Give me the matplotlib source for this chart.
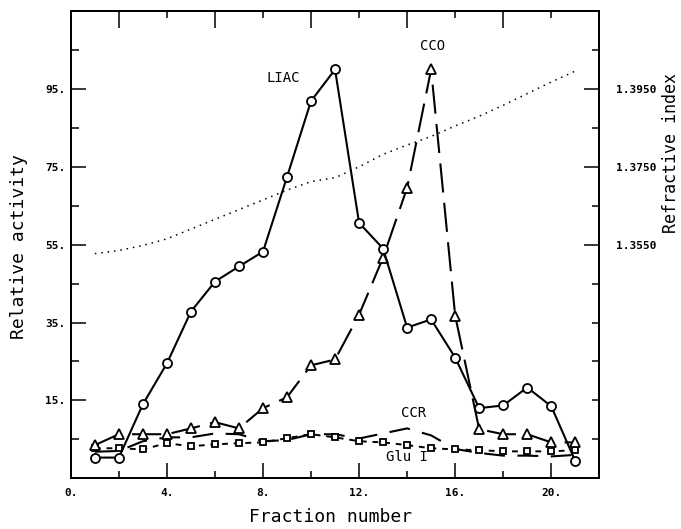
import numpy as np
import matplotlib
matplotlib.use("Agg")
import matplotlib.pyplot as plt
from matplotlib.ticker import MultipleLocator, FixedLocator, NullFormatter

# ---------------- DATA ----------------
fraction = list(range(1, 22))
liac = [0.3, 0.3, 14.0, 24.5, 37.8, 45.5, 49.4, 53.2, 72.4, 91.9, 100.0,
        60.6, 54.0, 33.7, 35.8, 26.0, 13.0, 13.7, 18.3, 13.5, -0.6]
cco = [3.5, 6.3, 6.3, 6.3, 7.8, 9.4, 7.8, 13.0, 15.8, 24.0, 25.5,
       37.0, 51.7, 69.6, 100.0, 36.8, 7.6, 6.3, 6.3, 4.2, 4.2]
ccr = [1.8, 2.0, 4.5, 5.5, 5.5, 6.5, 6.3, 4.5, 4.8, 6.3, 6.3,
       5.2, 6.5, 7.8, 6.0, 2.5, 1.5, 0.8, 0.8, 0.6, 1.0]
glu = [2.7, 2.7, 2.4, 4.0, 3.2, 3.7, 4.0, 4.2, 5.3, 6.3, 5.5,
       4.5, 4.2, 3.5, 2.7, 2.4, 2.2, 1.9, 1.9, 1.9, 2.2]
refr = [1.3527, 1.3535, 1.3548, 1.3565, 1.3590, 1.3615, 1.3640, 1.3665,
        1.3690, 1.3712, 1.3722, 1.3750, 1.3782, 1.3806, 1.3828, 1.3855,
        1.3880, 1.3908, 1.3938, 1.3968, 1.3996]

left_labels = [15, 35, 55, 75, 95]
right_labels = [1.3550, 1.3750, 1.3950]
x_labels = [0, 4, 8, 12, 16, 20]
# --------------------------------------

MONO = "DejaVu Sans Mono"

fig = plt.figure(figsize=(6.81, 5.29), dpi=100)
ax = fig.add_axes([0.104, 0.096, 0.776, 0.883])

mk = dict(markerfacecolor="white", markeredgecolor="black", markeredgewidth=1.3)

ax.plot(fraction, ccr, color="black", lw=1.5, dashes=(10, 6))
ax.plot(fraction, glu, color="black", lw=1.4, dashes=(3, 3),
        marker="s", markersize=5, **mk)
ax.plot(fraction, cco, color="black", lw=1.5, dashes=(14, 5),
        marker="^", markersize=6.5, **mk)
ax.plot(fraction, liac, color="black", lw=1.5, marker="o", markersize=6.5, **mk)

ax.set_xlim(0, 22)
ax.set_ylim(-5, 115)

for s in ax.spines.values():
    s.set_linewidth(1.4)

# x ticks: bottom labelled every 4, minor every 2
ax.xaxis.set_major_locator(FixedLocator(x_labels))
ax.xaxis.set_minor_locator(FixedLocator([2, 6, 10, 14, 18]))
ax.set_xticklabels([f"{v}." for v in x_labels])
ax.tick_params(axis="x", which="major", direction="in", length=11, width=1.1,
               top=False, pad=7)
ax.tick_params(axis="x", which="minor", direction="in", length=5, width=1.1,
               top=False)

# top ticks are inverted: long at 2,6,10,.. short at 4,8,..
top = ax.secondary_xaxis("top")
top.xaxis.set_major_locator(FixedLocator([2, 6, 10, 14, 18]))
top.xaxis.set_minor_locator(FixedLocator([4, 8, 12, 16, 20]))
top.xaxis.set_major_formatter(NullFormatter())
top.tick_params(which="major", direction="in", length=12, width=1.1)
top.tick_params(which="minor", direction="in", length=5, width=1.1)
top.spines["top"].set_linewidth(1.4)

# left y ticks
ax.yaxis.set_major_locator(FixedLocator(left_labels))
ax.yaxis.set_minor_locator(FixedLocator([5, 25, 45, 65, 85, 105]))
ax.set_yticklabels([f"{v}." for v in left_labels])
ax.tick_params(axis="y", which="major", direction="in", length=11, width=1.1,
               right=False, pad=4)
ax.tick_params(axis="y", which="minor", direction="in", length=6, width=1.1,
               right=False)

for lab in ax.get_xticklabels() + ax.get_yticklabels():
    lab.set_fontfamily(MONO)
    lab.set_fontweight("bold")
    lab.set_fontsize(8)

# refractive index on right axis
ax2 = ax.twinx()
ax2.plot(fraction, refr, color="black", lw=1.1, linestyle=(0, (1, 3.2)))
ax2.set_ylim(1.295, 1.415)
ax2.yaxis.set_major_locator(FixedLocator(right_labels))
ax2.yaxis.set_minor_locator(FixedLocator([1.305, 1.315, 1.325, 1.335, 1.345,
                                          1.365, 1.385, 1.405]))
ax2.set_yticklabels([f"{v:.4f}" for v in right_labels],
                    fontfamily=MONO, fontweight="bold", fontsize=8)
ax2.tick_params(axis="y", which="major", direction="in", length=11, width=1.1, pad=12)
ax2.tick_params(axis="y", which="minor", direction="in", length=5, width=1.1)
for s in ax2.spines.values():
    s.set_linewidth(1.4)

# axis titles
fig.text(0.485, 0.022, "Fraction number", family=MONO, fontsize=13,
         ha="center", va="center")
fig.text(0.028, 0.533, "Relative activity", family=MONO, fontsize=13,
         ha="center", va="center", rotation=90)
fig.text(0.985, 0.71, "Refractive index", family=MONO, fontsize=12,
         ha="center", va="center", rotation=90)

# curve labels
ax.text(8.83, 97.8, "LIAC", family=MONO, fontsize=10, ha="center", va="center")
ax.text(15.04, 106.0, "CCO", family=MONO, fontsize=10, ha="center", va="center")
ax.text(14.25, 11.7, "CCR", family=MONO, fontsize=10, ha="center", va="center")
ax.text(14.0, 0.4, "Glu I", family=MONO, fontsize=10, ha="center", va="center")

fig.savefig("out.png", dpi=100)
